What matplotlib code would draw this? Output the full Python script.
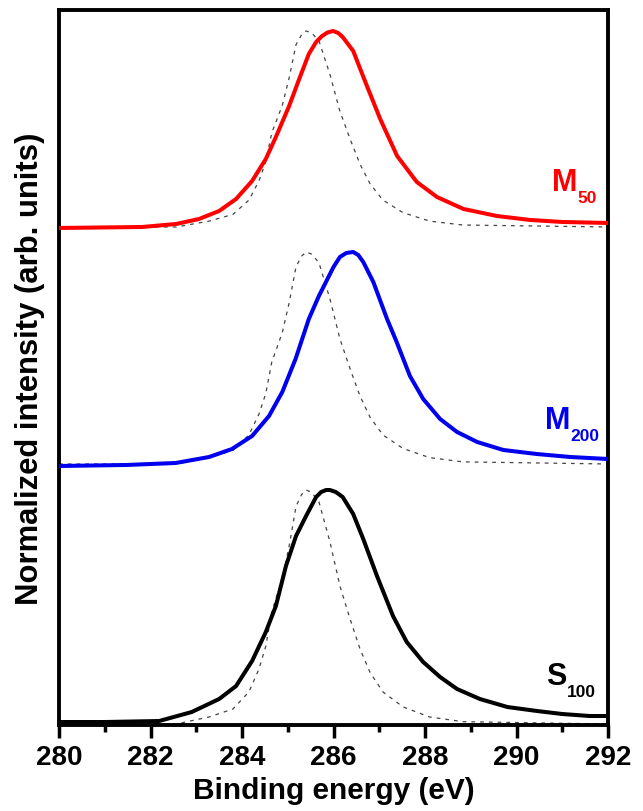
import matplotlib

matplotlib.use("Agg")
import matplotlib.pyplot as plt
import numpy as np
from matplotlib.ticker import MultipleLocator

plt.rcParams["font.family"] = ["Liberation Sans", "DejaVu Sans"]
plt.rcParams["font.weight"] = "bold"

# C1s spectra (stacked, arbitrary units)
s100_energy = [280.0, 281.0, 282.19, 282.9, 283.5, 283.87, 284.22, 284.52, 284.74,
               284.96, 285.18, 285.4, 285.62, 285.73, 285.84, 285.92, 286.05, 286.2,
               286.43, 286.65, 286.95, 287.3, 287.6, 287.96, 288.33, 288.7, 289.2,
               289.8, 290.45, 291.0, 291.6, 292.0]
s100_int = [0.03, 0.03, 0.04, 0.13, 0.26, 0.39, 0.64, 0.93, 1.19,
            1.59, 1.89, 2.09, 2.28, 2.33, 2.35, 2.35, 2.33, 2.28,
            2.11, 1.86, 1.49, 1.09, 0.83, 0.63, 0.48, 0.36, 0.26,
            0.18, 0.14, 0.11, 0.09, 0.09]

m200_energy = [280.0, 281.46, 282.55, 283.28, 283.78, 284.22, 284.59, 284.88, 285.17,
               285.46, 285.68, 286.0, 286.14, 286.28, 286.43, 286.54, 286.65, 286.87,
               287.17, 287.38, 287.67, 287.96, 288.33, 288.7, 289.14, 289.71, 290.44,
               291.17, 292.0]
m200_int = [2.59, 2.60, 2.62, 2.68, 2.76, 2.89, 3.09, 3.33, 3.66,
            4.06, 4.29, 4.58, 4.68, 4.72, 4.73, 4.70, 4.63, 4.43,
            4.06, 3.83, 3.49, 3.26, 3.06, 2.93, 2.83, 2.75, 2.71,
            2.68, 2.66]

m50_energy = [280.0, 281.82, 282.56, 283.06, 283.5, 283.87, 284.22, 284.52, 284.74,
              285.03, 285.25, 285.46, 285.62, 285.75, 285.87, 285.99, 286.1, 286.2,
              286.43, 286.73, 287.02, 287.39, 287.82, 288.26, 288.84, 289.57, 290.3,
              291.0, 292.0]
m50_int = [4.97, 4.98, 5.01, 5.06, 5.14, 5.26, 5.44, 5.66, 5.88,
           6.19, 6.46, 6.71, 6.83, 6.89, 6.925, 6.94, 6.92, 6.88,
           6.74, 6.39, 6.06, 5.69, 5.43, 5.28, 5.16, 5.09, 5.05,
           5.03, 5.02]

# reference peak (dashed), normalised 0..1, drawn under each spectrum
ref_energy = [280.0, 282.56, 283.28, 283.8, 284.15, 284.37, 284.52, 284.65, 284.88,
              285.03, 285.18, 285.3, 285.4, 285.52, 285.68, 285.92, 286.14, 286.36,
              286.58, 286.8, 287.08, 287.52, 288.1, 288.83, 292.0]
ref_norm = [0.0, 0.0, 0.03, 0.064, 0.137, 0.235, 0.333, 0.48, 0.62,
            0.76, 0.93, 0.98, 1.0, 0.99, 0.95, 0.78, 0.59, 0.45,
            0.32, 0.22, 0.137, 0.073, 0.03, 0.01, 0.0]
ref_base = [0.01, 2.61, 4.98]      # S100, M200, M50
ref_height = [2.34, 2.12, 1.96]

labels = ["S", "M", "M"]
subs = ["100", "200", "50"]
label_pos = [(290.64, 0.41), (290.62, 2.97), (290.77, 5.35)]
colors = ["black", "#0000ee", "#ff0000"]

fig = plt.figure(figsize=(6.43, 8.12), dpi=100)
ax = fig.add_axes([0.0918, 0.1059, 0.8538, 0.8806])

ref_e = np.array(ref_energy)
ref_n = np.array(ref_norm)
for base, h in zip(ref_base, ref_height):
    ax.plot(ref_e, base + h * ref_n, color="#444444", lw=0.9,
            dashes=(3, 4), zorder=2)

series = [(s100_energy, s100_int), (m200_energy, m200_int), (m50_energy, m50_int)]
for (e, y), c in zip(series, colors):
    ax.plot(e, y, color=c, lw=2.9, zorder=3, solid_joinstyle="round")

for lab, sub, (lx, ly), c in zip(labels, subs, label_pos, colors):
    t = ax.text(lx, ly, lab, color=c, fontsize=22, fontweight="bold",
                ha="left", va="baseline")
    ax.annotate(sub, xy=(1.02, ly - 0.117), xycoords=(t, "data"),
                color=c, fontsize=12.5, fontweight="bold",
                ha="left", va="baseline")

ax.set_xlim(280, 292)
ax.set_ylim(0, 7.15)
ax.xaxis.set_major_locator(MultipleLocator(2))
ax.xaxis.set_minor_locator(MultipleLocator(1))
ax.tick_params(axis="x", which="major", direction="out", length=9, width=2.5,
               labelsize=20, pad=5)
ax.tick_params(axis="x", which="minor", direction="out", length=5, width=2.5)
ax.tick_params(axis="y", left=False, labelleft=False)
for sp in ax.spines.values():
    sp.set_linewidth(2.8)

ax.set_xlabel("Binding energy (eV)", fontsize=21.5, fontweight="bold", labelpad=4)
ax.set_ylabel("Normalized intensity (arb. units)", fontsize=22.3,
              fontweight="bold", labelpad=10)

fig.savefig("out.png", dpi=100)
